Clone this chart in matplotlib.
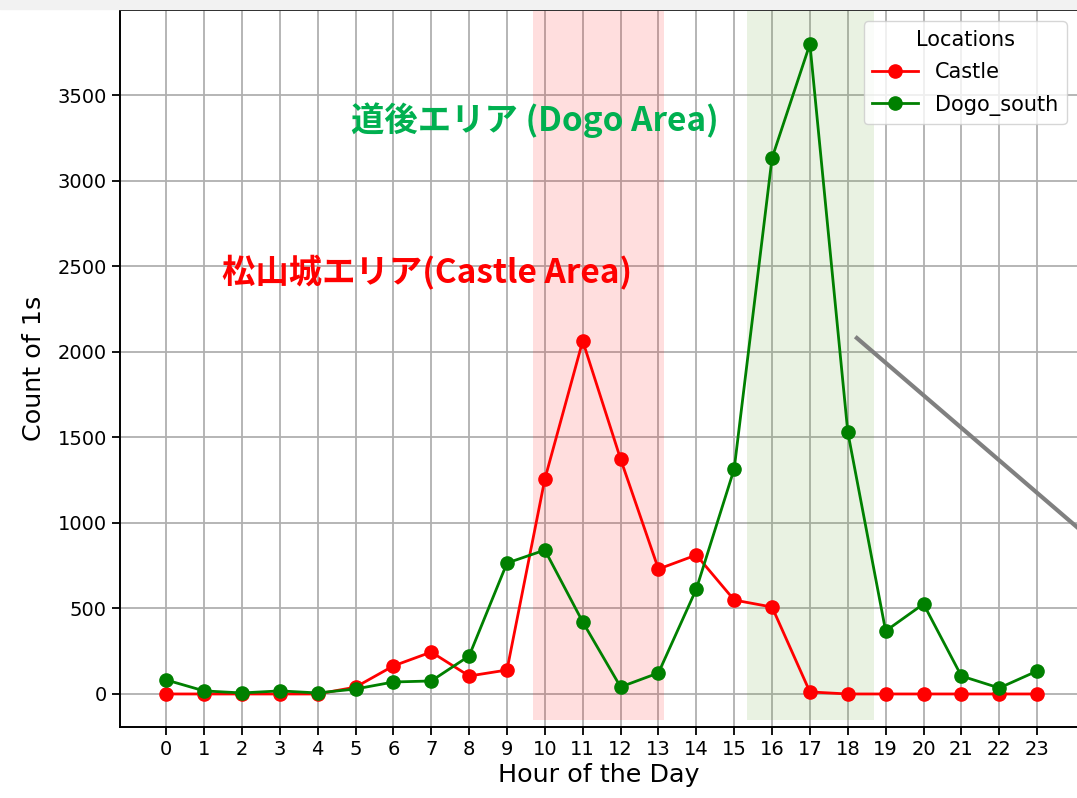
import matplotlib
matplotlib.use("Agg")
import matplotlib.pyplot as plt
from matplotlib.patches import Rectangle

hours = list(range(24))
castle = [0, 0, 0, 0, 0, 40, 164, 245, 105, 140, 1256, 2063, 1373, 730,
          812, 549, 508, 12, 0, 0, 0, 0, 0, 0]
dogo_south = [82, 18, 6, 18, 6, 29, 70, 76, 222, 765, 841, 421, 41, 123,
              613, 1315, 3132, 3798, 1531, 368, 526, 105, 35, 134]
yticks = [0, 500, 1000, 1500, 2000, 2500, 3000, 3500]

castle_span = (9.70, 13.14)
dogo_span = (15.33, 18.69)
span_bottom = -152
span_top = 4200

fig = plt.figure(figsize=(10.77, 7.98), dpi=100)
# strip of the cropped notebook header above the plot
fig.patches.append(Rectangle((0, 0.989), 1, 0.011, transform=fig.transFigure,
                             color="#f2f2f2", zorder=1))

ax = fig.add_axes([120 / 1077, 71 / 798, 958 / 1077, 717 / 798])

ax.fill_between(castle_span, span_bottom, span_top, color="red", alpha=0.13,
                linewidth=0, zorder=2)
ax.fill_between(dogo_span, span_bottom, span_top, color="#6ca83e", alpha=0.15,
                linewidth=0, zorder=2)

ax.plot(hours, castle, "-o", color="red", lw=2, ms=9.5, label="Castle", zorder=3)
ax.plot(hours, dogo_south, "-o", color="green", lw=2, ms=9.5, label="Dogo_south",
        zorder=3)

ax.set_xlim(-1.22, 24.08)
ax.set_ylim(-193, 3997)
ax.set_xticks(hours)
ax.set_yticks(yticks)
ax.tick_params(labelsize=14, width=1.3, length=6)
ax.grid(True, color="#b0b0b0", lw=1.3, zorder=1)
ax.set_axisbelow(True)
for s in ax.spines.values():
    s.set_linewidth(1.4)

ax.set_xlabel("Hour of the Day", fontsize=18.3, labelpad=3)
ax.set_ylabel("Count of 1s", fontsize=18.3, labelpad=8)

leg = ax.legend(title="Locations", loc="upper right", fontsize=15,
                title_fontsize=15, borderaxespad=0.55, labelspacing=0.6,
                handlelength=2.2)
leg.set_zorder(5)

jp = ["Noto Sans CJK JP", "DejaVu Sans"]
ax.text(535, 798 - 120, "道後エリア (Dogo Area)", transform=None,
        color="#00b050", fontsize=24, fontweight="bold", family=jp,
        ha="center", va="center", zorder=4)
ax.text(427, 798 - 273, "松山城エリア(Castle Area)", transform=None,
        color="red", fontsize=24, fontweight="bold", family=jp, ha="center",
        va="center", zorder=4)

# pointer line running off the right edge
ax.plot([18.24, 26.0], [2080, 605], color="gray", lw=3, clip_on=False,
        zorder=4)

fig.savefig("out.png", dpi=100)
